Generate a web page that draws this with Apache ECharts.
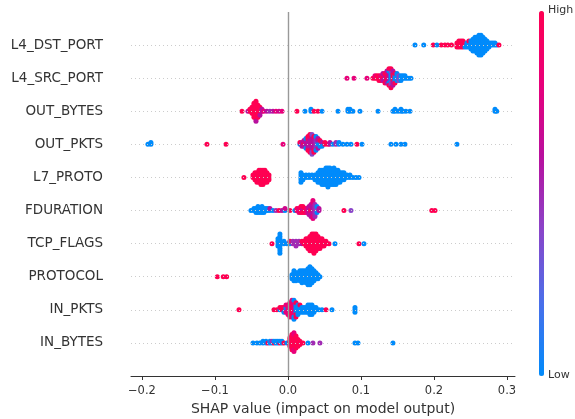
<!DOCTYPE html>
<html>
<head>
<meta charset="utf-8">
<script src="https://cdn.jsdelivr.net/npm/echarts@6/dist/echarts.min.js"></script>
<style>
  html, body { margin: 0; padding: 0; background: #fff; }
  #chart { width: 575px; height: 419px; }
</style>
</head>
<body>
<div id="chart"></div>
<script>
// feature names, top to bottom
const features = ['L4_DST_PORT', 'L4_SRC_PORT', 'OUT_BYTES', 'OUT_PKTS', 'L7_PROTO',
  'FDURATION', 'TCP_FLAGS', 'PROTOCOL', 'IN_PKTS', 'IN_BYTES']

// [shap value, feature value (0 low .. 1 high), number of points]
const l4DstPort = [
  [0.174, 0, 1], [0.186, 0, 1], [0.199, 1, 1], [0.204, 0, 1], [0.210, 1, 1], [0.215, 1, 1], [0.219, 1, 1], [0.224, 1, 1],
  [0.2315, 1, 3], [0.2342, 1, 4], [0.2370, 1, 4], [0.2397, 1, 4], [0.2425, 1, 2], [0.2425, 0, 1],
  [0.2452, 0, 3], [0.2479, 0, 3], [0.2479, 1, 1], [0.2507, 0, 5], [0.2534, 0, 7], [0.2562, 0, 8], [0.2589, 0, 9],
  [0.2616, 0, 11], [0.2644, 0, 11], [0.2671, 0, 9], [0.2699, 0, 7], [0.2726, 0, 5], [0.2753, 0, 3], [0.2781, 0, 2],
  [0.2808, 0, 2], [0.2836, 0, 2], [0.2863, 0, 1], [0.289, 1, 1]
]
const l4SrcPort = [
  [0.0808, 0.8, 1], [0.0904, 0.8, 1], [0.1082, 0.8, 1],
  [0.1164, 1, 1], [0.1192, 1, 1], [0.1192, 0.8, 1], [0.1219, 1, 2], [0.1247, 1, 3], [0.1274, 0.8, 2], [0.1274, 1, 1],
  [0.1301, 1, 2], [0.1301, 0.6, 2], [0.1329, 0.6, 3], [0.1329, 1, 2], [0.1356, 1, 4], [0.1356, 0.6, 2],
  [0.1384, 0.6, 4], [0.1384, 0, 2], [0.1384, 1, 2], [0.1411, 0, 4], [0.1411, 0.4, 3], [0.1411, 1, 2],
  [0.1438, 1, 4], [0.1438, 0.6, 3], [0.1466, 0, 3], [0.1466, 1, 2], [0.1493, 0, 4], [0.1521, 0.4, 3],
  [0.1548, 0, 3], [0.1575, 0, 2], [0.1603, 0, 2], [0.1630, 0, 1], [0.1658, 0, 1], [0.1685, 0, 1]
]
const outBytes = [
  [-0.063, 1, 1], [-0.0548, 0.6, 1], [-0.0521, 1, 2], [-0.0493, 1, 4], [-0.0466, 1, 8], [-0.0438, 1, 10],
  [-0.0438, 0.6, 1], [-0.0411, 1, 7], [-0.0384, 1, 4], [-0.0384, 0.6, 1], [-0.0356, 0.6, 2], [-0.0329, 0.8, 1],
  [-0.0288, 0.6, 1], [-0.0247, 0.5, 1], [-0.0205, 0.6, 1], [-0.0164, 0.8, 1], [-0.0123, 0.7, 1], [-0.0082, 0.8, 1],
  [0.0123, 1, 1], [0.0233, 0, 1], [0.0315, 0, 2], [0.0356, 1, 1], [0.0411, 1, 1], [0.0466, 0, 1], [0.0685, 0, 1],
  [0.0822, 0, 2], [0.0849, 0, 2], [0.089, 0, 1], [0.0986, 0, 1], [0.1233, 0, 1], [0.1438, 0, 1], [0.1466, 0, 2],
  [0.1507, 0, 1], [0.1548, 0, 2], [0.1575, 0, 1], [0.1616, 0, 1], [0.1671, 0, 1], [0.2836, 0, 2], [0.286, 0, 1]
]
const outPkts = [
  [-0.1918, 0, 1], [-0.1877, 0, 2], [-0.111, 1, 1], [-0.0849, 1, 1], [-0.0068, 0.8, 1],
  [0.0164, 0, 1], [0.0164, 1, 1], [0.0192, 0.6, 3], [0.0219, 1, 2], [0.0219, 0.6, 2], [0.0247, 0.6, 4], [0.0247, 0, 2],
  [0.0274, 0.6, 5], [0.0274, 1, 3], [0.0301, 0.6, 6], [0.0301, 1, 4], [0.0329, 0.6, 8], [0.0329, 0.4, 3],
  [0.0356, 0.6, 6], [0.0356, 1, 3], [0.0384, 0.5, 6], [0.0384, 0, 2], [0.0411, 0, 3], [0.0411, 0.6, 3],
  [0.0438, 0, 3], [0.0438, 1, 1], [0.0466, 0.6, 2], [0.0466, 0, 1], [0.0507, 1, 2],
  [0.0548, 1, 1], [0.0575, 0.6, 2], [0.0616, 0, 1], [0.0658, 0.5, 2], [0.0699, 0, 2], [0.0753, 0, 1], [0.0808, 0, 1],
  [0.0863, 0, 1], [0.0945, 1, 1], [0.1014, 0, 1], [0.1411, 0, 1], [0.1479, 0, 1], [0.1548, 0, 1], [0.1603, 0, 1],
  [0.2315, 0, 1]
]
const l7Proto = [
  [-0.0603, 1, 1], [-0.0479, 1, 2], [-0.0452, 1, 4], [-0.0425, 1, 5], [-0.0397, 1, 6], [-0.037, 1, 7], [-0.0342, 1, 7],
  [-0.0315, 1, 6], [-0.0288, 1, 5], [-0.026, 1, 3],
  [0.0178, 0, 5], [0.0205, 0, 3], [0.0247, 0, 2], [0.0288, 0, 2], [0.0329, 0, 2], [0.037, 0, 3], [0.0411, 0, 5],
  [0.0438, 0, 6], [0.0466, 0, 7], [0.0493, 0, 7], [0.0521, 0, 8], [0.0548, 0, 9], [0.0575, 0, 8], [0.0603, 0, 7],
  [0.063, 0, 8], [0.0658, 0, 7], [0.0685, 0, 6], [0.0712, 0, 5], [0.074, 0, 4], [0.0767, 0, 4], [0.0808, 0, 2],
  [0.0849, 0, 2], [0.089, 0, 1], [0.0932, 0, 1], [0.0973, 0, 1]
]
const fDuration = [
  [-0.0507, 0, 1], [-0.0466, 0, 2], [-0.0438, 0, 3], [-0.0411, 0, 4], [-0.0384, 0, 3], [-0.0356, 0, 4], [-0.0329, 0, 3],
  [-0.0301, 0, 2], [-0.0274, 0, 2], [-0.0247, 0, 1], [-0.0247, 0.6, 1], [-0.0205, 0, 1], [-0.0164, 0.5, 1],
  [-0.0123, 1, 1], [-0.0082, 0.6, 1], [-0.0041, 0, 1], [-0.0041, 0.7, 1], [0.0027, 1, 1], [0.0096, 0, 1],
  [0.0123, 1, 2], [0.0151, 0.8, 3], [0.0178, 1, 4], [0.0205, 0.6, 2], [0.0205, 1, 2], [0.0233, 1, 3], [0.026, 0.8, 3],
  [0.0288, 0.6, 5], [0.0315, 1, 3], [0.0315, 0.6, 4], [0.0342, 0.6, 6], [0.0342, 0.8, 4], [0.037, 0.5, 7],
  [0.0397, 0.4, 2], [0.0397, 0, 2], [0.0425, 0.6, 2],
  [0.0767, 1, 1], [0.0863, 0.4, 1], [0.197, 1, 1], [0.2014, 1, 1]
]
const tcpFlags = [
  [-0.0219, 1, 1], [-0.0137, 0, 4], [-0.011, 0, 9], [-0.0055, 0, 2], [-0.0014, 0, 1], [0.0027, 0, 1], [0.0027, 1, 1],
  [0.0068, 0.5, 2], [0.011, 0.5, 3], [0.0151, 0.5, 2], [0.0192, 0.6, 1], [0.0192, 1, 1],
  [0.0219, 1, 2], [0.0247, 1, 4], [0.0274, 1, 5], [0.0301, 1, 7], [0.0329, 1, 8], [0.0356, 1, 9], [0.0384, 1, 8],
  [0.0411, 1, 6], [0.0438, 1, 5], [0.0466, 1, 4], [0.0493, 1, 3], [0.0521, 1, 2], [0.0562, 1, 1],
  [0.0644, 0, 1], [0.0973, 1, 1], [0.1041, 0, 1]
]
const protocol = [
  [-0.0968, 1, 1], [-0.0886, 1, 1], [-0.084, 1, 1],
  [0.0055, 0, 3], [0.0082, 0, 6], [0.011, 0, 5], [0.0137, 0, 4], [0.0164, 0, 6], [0.0192, 0, 7], [0.0219, 0, 6],
  [0.0247, 0, 7], [0.0274, 0, 9], [0.0301, 0, 10], [0.0329, 0, 8], [0.0356, 0, 6], [0.0384, 0, 4], [0.0411, 0, 3],
  [0.0438, 0, 1]
]
const inPkts = [
  [-0.0671, 1, 1], [-0.0192, 1, 1], [-0.0151, 1, 1], [-0.011, 0, 1], [-0.011, 1, 1], [-0.0082, 1, 2], [-0.0055, 1, 2],
  [-0.0055, 0, 1], [-0.0027, 0, 2], [-0.0027, 0.8, 2], [0, 0.8, 5], [0.0027, 0.8, 4], [0.0027, 1, 3], [0.0055, 1, 5],
  [0.0055, 0.8, 3], [0.0082, 0.8, 6], [0.0082, 0, 3], [0.011, 0, 4], [0.011, 1, 3], [0.0137, 0, 5], [0.0164, 0, 3],
  [0.0164, 1, 1], [0.0192, 0, 3], [0.0219, 0, 3], [0.0247, 0, 3], [0.0274, 0, 4], [0.0301, 0, 5], [0.0329, 0, 5],
  [0.0356, 0, 3], [0.0384, 0, 2], [0.0425, 0, 1], [0.0466, 0, 1], [0.0521, 1, 1], [0.0603, 0, 1], [0.0918, 0, 3]
]
const inBytes = [
  [-0.0479, 0, 1], [-0.0425, 0, 1], [-0.0384, 0, 1], [-0.0342, 0, 2], [-0.0301, 0, 2], [-0.0274, 1, 1], [-0.0247, 0, 2],
  [-0.0219, 0, 1], [-0.0219, 0.5, 1], [-0.0192, 1, 1], [-0.0192, 0, 1], [-0.0164, 0, 2], [-0.0137, 0, 2],
  [-0.011, 1, 1], [-0.011, 0, 1], [-0.0082, 0, 2], [-0.0055, 1, 1], [-0.0014, 0, 1],
  [0.0027, 1, 6], [0.0055, 1, 10], [0.0082, 1, 8], [0.0082, 0.8, 4], [0.011, 1, 8], [0.0137, 1, 5], [0.0164, 1, 3],
  [0.0205, 1, 1], [0.0274, 0, 1], [0.0342, 0.5, 1], [0.0438, 0.5, 1], [0.0918, 0, 1], [0.0959, 0, 1], [0.1438, 0, 1]
]

const featureData = [l4DstPort, l4SrcPort, outBytes, outPkts, l7Proto, fDuration, tcpFlags, protocol, inPkts, inBytes]
const xTicks = [-0.2, -0.1, 0, 0.1, 0.2, 0.3]

const font = 'DejaVu Sans'
const axisColor = '#333333'

// beeswarm layout like shap: points sharing a value are stacked up and down
function swarm(rows, rowY) {
  const pts = []
  rows.forEach(([x, c, n]) => {
    for (let k = 0; k < n; k++) pts.push([x, c])
  })
  const layer = {}
  const offs = pts.map(([x]) => {
    const key = x.toFixed(4)
    const l = layer[key] || 0
    layer[key] = l + 1
    return Math.ceil(l / 2) * (l % 2 ? 1 : -1)
  })
  const top = Math.max(...offs.map(Math.abs))
  const unit = 0.9 * 0.4 / (top + 1)
  return pts.map(([x, c], i) => [x, rowY + offs[i] * unit, c])
}

const n = features.length
let points = []
featureData.forEach((rows, i) => {
  points = points.concat(swarm(rows, n - 1 - i))
})

const chart = echarts.init(document.getElementById('chart'))
chart.setOption({
  animation: false,
  backgroundColor: '#fff',
  grid: { left: 131, right: 60, top: 12, bottom: 43, outerBoundsMode: 'none' },
  xAxis: {
    type: 'value',
    min: -0.215,
    max: 0.311,
    splitLine: { show: false },
    axisLine: { onZero: false, lineStyle: { color: axisColor, width: 1 } },
    axisTick: { customValues: xTicks, length: 4, lineStyle: { color: axisColor } },
    axisLabel: {
      customValues: xTicks,
      color: axisColor,
      fontSize: 11.5,
      fontFamily: font,
      margin: 9,
      formatter: v => (v < 0 ? '\u2212' : '') + Math.abs(v).toFixed(1)
    },
    name: 'SHAP value (impact on model output)',
    nameLocation: 'middle',
    nameGap: 23,
    nameTextStyle: { color: axisColor, fontSize: 14, fontFamily: font }
  },
  yAxis: {
    type: 'value',
    min: -1,
    max: n,
    interval: 1,
    splitLine: { show: false },
    axisLine: { show: false },
    axisTick: { show: false },
    axisLabel: {
      color: axisColor,
      fontSize: 13.5,
      fontFamily: font,
      margin: 28,
      formatter: v => (v >= 0 && v < n ? features[n - 1 - v] : '')
    }
  },
  visualMap: {
    type: 'continuous',
    min: 0,
    max: 1,
    dimension: 2,
    seriesIndex: 1,
    orient: 'vertical',
    left: 539,
    top: 11,
    itemWidth: 5,
    itemHeight: 365,
    padding: 0,
    text: null,
    calculable: false,
    hoverLink: false,
    inRange: { color: ['#008bfb', '#4a6fea', '#8a45c9', '#b8109e', '#e8007a', '#ff0052'] }
  },
  graphic: [
    { type: 'text', left: 548, top: 5, style: { text: 'High', fontSize: 11, fontFamily: font, fill: axisColor } },
    { type: 'text', left: 548, top: 370, style: { text: 'Low', fontSize: 11, fontFamily: font, fill: axisColor } }
  ],
  series: [
    {
      type: 'scatter',
      data: [],
      z: 1,
      silent: true,
      markLine: {
        silent: true,
        symbol: 'none',
        label: { show: false },
        data: features.map((f, i) => ({
          yAxis: i,
          lineStyle: { color: '#cccccc', type: [1, 3], width: 1 }
        })).concat([{ xAxis: 0, lineStyle: { color: '#999999', type: 'solid', width: 1.4 } }])
      }
    },
    {
      type: 'scatter',
      z: 2,
      symbolSize: 5,
      itemStyle: { opacity: 1 },
      data: points
    }
  ]
})
</script>
</body>
</html>
